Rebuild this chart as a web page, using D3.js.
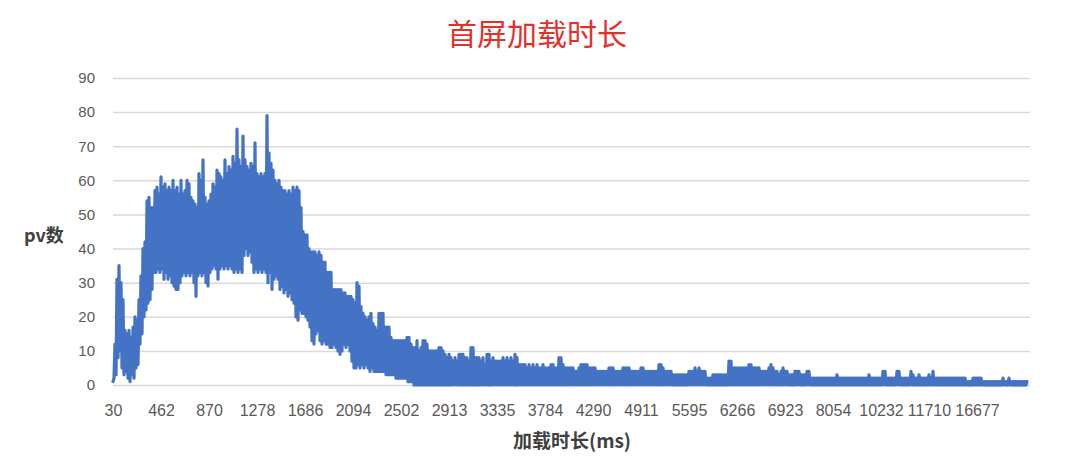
<!DOCTYPE html>
<html>
<head>
<meta charset="utf-8">
<script src="https://cdn.jsdelivr.net/npm/d3@7"></script>
<style>
html,body{margin:0;padding:0;background:#fff;}
svg{display:block;}
</style>
</head>
<body>
<svg id="chart" width="1080" height="468"></svg>
<script>
// ---- data ----
const chartTitle = "首屏加载时长";
const yAxisTitle = "pv数";
const xAxisTitle = "加载时长(ms)";
const yTicks = [0,10,20,30,40,50,60,70,80,90];
const xTickLabels = ["30","462","870","1278","1686","2094","2502","2913","3335","3784","4290","4911","5595","6266","6923","8054","10232","11710","16677"];
const xTickIndex = [0,48,96,144,192,240,288,336,384,432,480,528,576,624,672,720,768,816,864];
// pv counts per load-time category (sampled along the axis)
const pv = [
1,2,12,3,31,8,35,10,30,5,
25,3,16,4,15,2,16,1,14,3,
17,2,20,5,19,6,25,12,32,15,
40,20,42,22,54,24,55,25,52,28,
52,33,57,33,58,34,56,33,61,34,
58,31,59,33,57,31,58,32,57,30,
60,29,57,28,58,28,56,30,60,32,
56,33,57,32,60,33,59,32,55,33,
54,30,53,26,52,32,62,33,60,32,
66,33,55,30,53,29,54,33,56,34,
59,35,58,34,63,31,62,34,61,35,
60,34,66,35,62,34,64,35,63,34,
67,33,65,34,75,33,66,34,64,33,
73,38,66,40,64,38,63,39,65,36,
64,33,71,34,62,33,61,34,62,33,
61,34,62,33,79,30,68,33,65,28,
63,31,60,32,59,31,60,28,58,29,
57,27,57,28,56,26,57,27,56,25,
58,24,57,20,58,19,57,22,52,21,
45,21,44,20,44,19,40,17,39,13,
39,12,39,15,38,16,39,13,38,12,
36,13,36,12,33,12,33,11,33,11,
28,12,28,11,28,10,28,9,28,10,
27,12,27,11,26,12,26,10,26,7,
25,5,24,5,30,6,29,5,23,6,
21,5,20,6,19,5,20,4,21,5,
18,4,17,4,16,4,21,4,21,4,
21,4,17,3,17,3,17,3,14,3,
13,3,13,2,13,2,13,2,13,2,
13,2,13,2,14,1,14,1,12,1,
11,0,11,0,13,0,10,0,11,0,
13,0,13,0,12,0,10,0,10,0,
10,0,10,0,10,0,11,0,11,0,
10,0,9,0,8,0,9,0,8,0,
7,0,8,0,7,0,9,0,9,0,
9,0,8,0,8,0,7,0,11,0,
11,0,8,0,8,0,8,0,7,0,
8,0,6,0,9,0,9,0,7,0,
8,0,7,0,7,0,7,0,7,0,
8,0,7,0,8,0,7,0,8,0,
7,0,9,0,8,0,6,0,6,0,
6,0,6,0,5,0,6,0,5,0,
6,0,5,0,6,0,5,0,5,0,
6,0,5,0,5,0,5,0,6,0,
6,0,5,0,5,0,8,0,8,0,
6,0,5,0,5,0,5,0,5,0,
5,0,4,0,4,0,5,0,6,0,
6,0,6,0,6,0,5,0,5,0,
5,0,5,0,4,0,4,0,4,0,
4,0,4,0,4,0,5,0,5,0,
5,0,4,0,4,0,4,0,4,0,
5,0,5,0,5,0,5,0,4,0,
4,0,4,0,4,0,4,0,5,0,
5,0,4,0,4,0,4,0,4,0,
4,0,4,0,4,0,6,0,6,0,
5,0,4,0,4,0,4,0,4,0,
3,0,3,0,3,0,3,0,3,0,
3,0,3,0,3,0,4,0,4,0,
4,0,5,0,4,0,5,0,4,0,
4,0,4,0,2,0,2,0,2,0,
3,0,3,0,3,0,3,0,3,0,
3,0,3,0,3,0,7,0,7,0,
5,0,5,0,5,0,5,0,5,0,
5,0,5,0,5,0,6,0,6,0,
5,0,5,0,5,0,5,0,4,0,
4,0,4,0,4,0,5,0,6,0,
5,0,4,0,4,0,3,0,4,0,
5,0,4,0,4,0,3,0,3,0,
3,0,4,0,4,0,4,0,3,0,
3,0,3,0,4,0,4,0,2,0,
2,0,2,0,2,0,2,0,2,0,
2,0,2,0,2,0,2,0,2,0,
2,0,2,0,3,0,2,0,2,0,
2,0,2,0,2,0,2,0,2,0,
2,0,2,0,2,0,2,0,2,0,
2,0,2,0,2,0,3,0,2,0,
2,0,2,0,2,0,2,0,2,0,
4,0,4,0,2,0,2,0,2,0,
2,0,2,0,4,0,4,0,2,0,
2,0,2,0,2,0,2,0,4,0,
3,0,2,0,2,0,3,0,2,0,
2,0,2,0,2,0,3,0,2,0,
4,0,2,0,2,0,2,0,2,0,
2,0,2,0,2,0,2,0,2,0,
2,0,2,0,2,0,2,0,2,0,
2,0,2,0,1,0,1,0,1,0,
2,0,2,0,2,0,2,0,2,0,
1,0,1,0,1,0,1,0,1,0,
1,0,1,0,1,0,1,0,1,0,
2,0,1,0,1,0,2,0,1,0,
1,0,1,0,1,0,1,0,1,0,
1,0,1,0,1
];

// ---- chart ----
const svg = d3.select("#chart");
const W = 1080, H = 468;
const margin = {left:113, right:53, top:78, bottom:83};
const plotW = W - margin.left - margin.right;
const plotH = H - margin.top - margin.bottom;

const x = d3.scaleLinear().domain([0, pv.length - 1]).range([margin.left, margin.left + plotW]);
const y = d3.scaleLinear().domain([0, 90]).range([margin.top + plotH, margin.top]);

const fontCJK = "'Noto Sans CJK SC','Noto Sans',sans-serif";
const fontNum = "'Liberation Sans','Noto Sans CJK SC',sans-serif";

// gridlines + y labels
const yAxis = d3.axisLeft(y).tickValues(yTicks).tickSize(-(plotW + 3)).tickPadding(18);
const gy = svg.append("g").attr("transform", `translate(${margin.left},0)`).call(yAxis);
gy.select(".domain").remove();
gy.selectAll(".tick line").attr("stroke", "#d9d9d9").attr("stroke-width", 1.5);
gy.selectAll(".tick text").attr("fill", "#595959").style("font-family", fontNum).style("font-size", "15px");

// x labels
const xAxis = d3.axisBottom(x).tickValues(xTickIndex).tickFormat((d, i) => xTickLabels[i]).tickSize(0).tickPadding(20);
const gx = svg.append("g").attr("transform", `translate(0,${margin.top + plotH})`).call(xAxis);
gx.select(".domain").remove();
gx.selectAll(".tick text").attr("fill", "#595959").style("font-family", fontNum).style("font-size", "16px");

// line
const line = d3.line().x((d, i) => x(i)).y(d => y(d));
svg.append("path").datum(pv)
  .attr("d", line)
  .attr("fill", "none")
  .attr("stroke", "#4472c4")
  .attr("stroke-width", 3.2)
  .attr("stroke-linejoin", "round")
  .attr("stroke-linecap", "round");

// titles
svg.append("text").attr("x", 537).attr("y", 45).attr("text-anchor", "middle")
  .attr("fill", "#e3302b").style("font-family", fontCJK).style("font-size", "30px").text(chartTitle);

svg.append("text").attr("x", 24).attr("y", 242)
  .attr("fill", "#404040").style("font-family", fontCJK).style("font-size", "18px").style("font-weight", "bold").text(yAxisTitle);

svg.append("text").attr("x", 572).attr("y", 448).attr("text-anchor", "middle")
  .attr("fill", "#404040").style("font-family", fontCJK).style("font-size", "19px").style("font-weight", "bold").text(xAxisTitle);
</script>
</body>
</html>
